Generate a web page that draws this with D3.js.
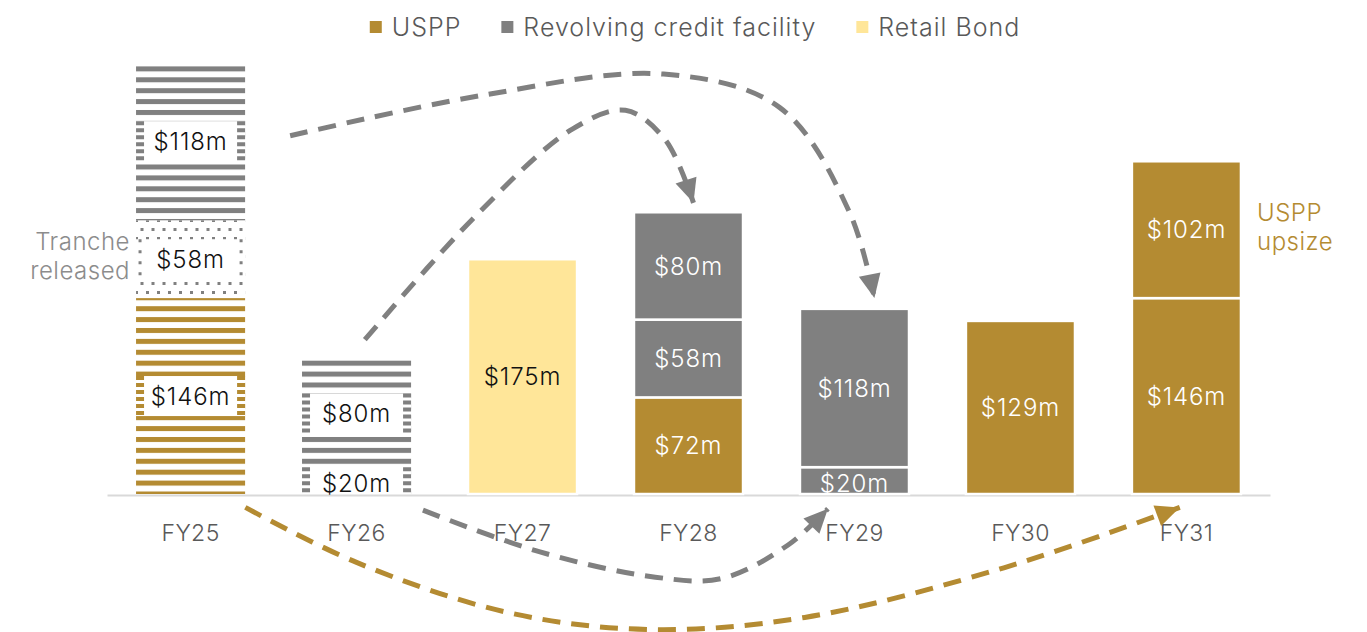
<!DOCTYPE html>
<html>
<head>
<meta charset="utf-8">
<script src="https://cdn.jsdelivr.net/npm/d3@7"></script>
<style>
  body { margin: 0; background: #fff; }
  svg { display: block; font-family: Inter, "Open Sans", sans-serif; }
</style>
</head>
<body>
<svg width="1367" height="632"></svg>
<script>
// categories on the x axis
var categories = ["FY25", "FY26", "FY27", "FY28", "FY29", "FY30", "FY31"];

// stacked segments, bottom to top within each year
var segYear   = ["FY25", "FY25", "FY25", "FY26", "FY26", "FY27", "FY28", "FY28", "FY28", "FY29", "FY29", "FY30", "FY31", "FY31"];
var segSeries = ["USPP", "RCF", "RCF", "RCF", "RCF", "Retail", "USPP", "RCF", "RCF", "RCF", "RCF", "USPP", "USPP", "USPP"];
var segValue  = [146, 58, 118, 20, 80, 175, 72, 58, 80, 20, 118, 129, 146, 102];
var segStatus = ["maturing", "released", "maturing", "maturing", "maturing", "new", "new", "new", "new", "new", "new", "new", "new", "new"];

// legend
var legendLabels = ["USPP", "Revolving credit facility", "Retail Bond"];
var legendKeys = ["USPP", "RCF", "Retail"];

// refinancing arrows: [position in bar steps from FY25, value in $m]
var arrowRcf118 = [[0.6, 267], [1.75, 297], [2.85, 313], [3.55, 288], [3.97, 210], [4.12, 146]];
var arrowRcf80  = [[1.05, 115], [1.7, 205], [2.3, 272], [2.62, 286], [2.86, 264], [3.03, 217]];
var arrowRcf20  = [[1.4, -12], [2.1, -43], [2.8, -62], [3.2, -63], [3.6, -38], [3.84, -11]];
var arrowUspp   = [[0.33, -10], [1.0, -51], [1.9, -88], [2.75, -101], [3.7, -92], [4.9, -55], [5.96, -10]];

var gold = "#b48b32", grey = "#808080", yellow = "#ffe699";
var colour = d3.scaleOrdinal().domain(["USPP", "RCF", "Retail"]).range([gold, grey, yellow]);

var svg = d3.select("svg");

// scales
var x = d3.scaleBand().domain(categories).range([107, 1270]).paddingInner(0.343).paddingOuter(0.175);
var y = d3.scaleLinear().domain([0, 322]).range([494, 62]);
var xi = function(i) { return x(categories[0]) + x.bandwidth() / 2 + i * x.step(); };

// patterns
var defs = svg.append("defs");
["USPP", "RCF"].forEach(function(k) {
  var p = defs.append("pattern").attr("id", "stripe-" + k)
    .attr("patternUnits", "userSpaceOnUse").attr("width", 10).attr("height", 10.9);
  p.append("rect").attr("width", 10).attr("height", 5).attr("y", 1).attr("fill", colour(k));
});
var dp = defs.append("pattern").attr("id", "dots")
  .attr("patternUnits", "userSpaceOnUse").attr("width", 11).attr("height", 18)
  .attr("x", 3).attr("y", 3);
dp.append("rect").attr("x", 0).attr("y", 0).attr("width", 3).attr("height", 3).attr("fill", grey);
dp.append("rect").attr("x", 5.5).attr("y", 9).attr("width", 3).attr("height", 3).attr("fill", grey);

["gold", "grey"].forEach(function(n) {
  defs.append("marker").attr("id", "head-" + n)
    .attr("markerUnits", "userSpaceOnUse")
    .attr("viewBox", "-2 -13 28 26")
    .attr("markerWidth", 28).attr("markerHeight", 26)
    .attr("refX", 24).attr("refY", 0)
    .attr("orient", "auto")
    .append("path").attr("d", "M0,-11L24,0L0,11Z")
    .attr("fill", n == "gold" ? gold : grey);
});

// x axis
var xAxis = svg.append("g")
  .attr("transform", "translate(0," + 495 + ")")
  .call(d3.axisBottom(x).tickSize(0).tickPadding(30));
xAxis.select(".domain").attr("stroke", "#d9d9d9").attr("stroke-width", 2);
xAxis.selectAll("text").attr("font-size", 23).attr("fill", "#595959")
  .attr("font-family", "Inter, sans-serif").attr("font-weight", 300)
  .attr("letter-spacing", 0.4);

// stack segments
var base = {};
var segs = segValue.map(function(v, i) {
  var b = base[segYear[i]] || 0;
  base[segYear[i]] = b + v;
  return { year: segYear[i], series: segSeries[i], value: v, status: segStatus[i], y0: b, y1: b + v };
});

var bars = svg.append("g");
segs.forEach(function(d) {
  var g = bars.append("g");
  var x0 = x(d.year), w = x.bandwidth();
  var top = y(d.y1), bot = y(d.y0), h = bot - top;
  var fill = d.status == "new" ? colour(d.series)
    : d.status == "released" ? "url(#dots)" : "url(#stripe-" + d.series + ")";
  g.append("rect").attr("x", x0).attr("y", top).attr("width", w).attr("height", h)
    .attr("fill", fill);
  if (d.status == "new") {
    g.select("rect").attr("stroke", "#fff").attr("stroke-width", 2.5);
  } else {
    // white label box with broken edges
    var bh = Math.min(40, h), cy = (top + bot) / 2;
    var side = d.status == "released" ? grey : colour(d.series);
    g.append("rect").attr("x", x0).attr("y", cy - bh / 2).attr("width", w).attr("height", bh)
      .attr("fill", "#fff");
    if (d.status == "released") {
      g.append("rect").attr("x", x0).attr("y", top + 20).attr("width", w).attr("height", h - 40)
        .attr("fill", "#fff");
    }
    [x0 + 4, x0 + w - 4].forEach(function(sx) {
      g.append("line").attr("x1", sx).attr("x2", sx)
        .attr("y1", cy - bh / 2).attr("y2", cy + bh / 2)
        .attr("stroke", side)
        .attr("stroke-width", d.status == "released" ? 3 : 8)
        .attr("stroke-dasharray", d.status == "released" ? "3 8" : "4 3");
    });
  }
  g.append("text")
    .attr("x", x0 + w / 2).attr("y", (top + bot) / 2 + (h < 30 ? 3 : 0))
    .attr("dy", "0.36em").attr("text-anchor", "middle")
    .attr("font-size", 24).attr("font-weight", 300).attr("letter-spacing", 0.9)
    .attr("fill", d.status == "new" && d.series != "Retail" ? "#fff" : "#111")
    .text("$" + d.value + "m");
});

// annotations
function note(t, tx, ty, anchor, fill) {
  svg.append("text").attr("x", tx).attr("y", ty).attr("dy", "0.36em")
    .attr("text-anchor", anchor).attr("font-size", 24).attr("font-weight", 300)
    .attr("letter-spacing", 0.5).attr("fill", fill).text(t);
}
note("Tranche", 130, 241, "end", "#8c8c8c");
note("released", 130, 270, "end", "#8c8c8c");
note("USPP", 1257, 212, "start", gold);
note("upsize", 1257, 241, "start", gold);

// arrows
var line = d3.line()
  .x(function(d) { return xi(d[0]); })
  .y(function(d) { return y(d[1]); })
  .curve(d3.curveCatmullRom.alpha(0.5));

[[arrowRcf118, "grey"], [arrowRcf80, "grey"], [arrowRcf20, "grey"], [arrowUspp, "gold"]].forEach(function(a) {
  svg.append("path").attr("d", line(a[0]))
    .attr("fill", "none")
    .attr("stroke", a[1] == "gold" ? gold : grey)
    .attr("stroke-width", 5)
    .attr("stroke-dasharray", "18 11")
    .attr("marker-end", "url(#head-" + a[1] + ")");
});

// legend
var legend = svg.append("g").attr("transform", "translate(0,27)");
var lx = 0;
legendLabels.forEach(function(t, i) {
  var it = legend.append("g").attr("transform", "translate(" + lx + ",0)");
  it.append("rect").attr("x", 0).attr("y", -6).attr("width", 12).attr("height", 12)
    .attr("fill", colour(legendKeys[i]));
  var tx = it.append("text").attr("x", 22).attr("dy", "0.36em")
    .attr("font-size", 25).attr("font-weight", 300).attr("letter-spacing", 1)
    .attr("fill", "#595959").text(t);
  lx += 22 + tx.node().getComputedTextLength() + 40;
});
var total = lx - 40;
legend.attr("transform", "translate(" + (695 - total / 2) + ",27)");
</script>
</body>
</html>
